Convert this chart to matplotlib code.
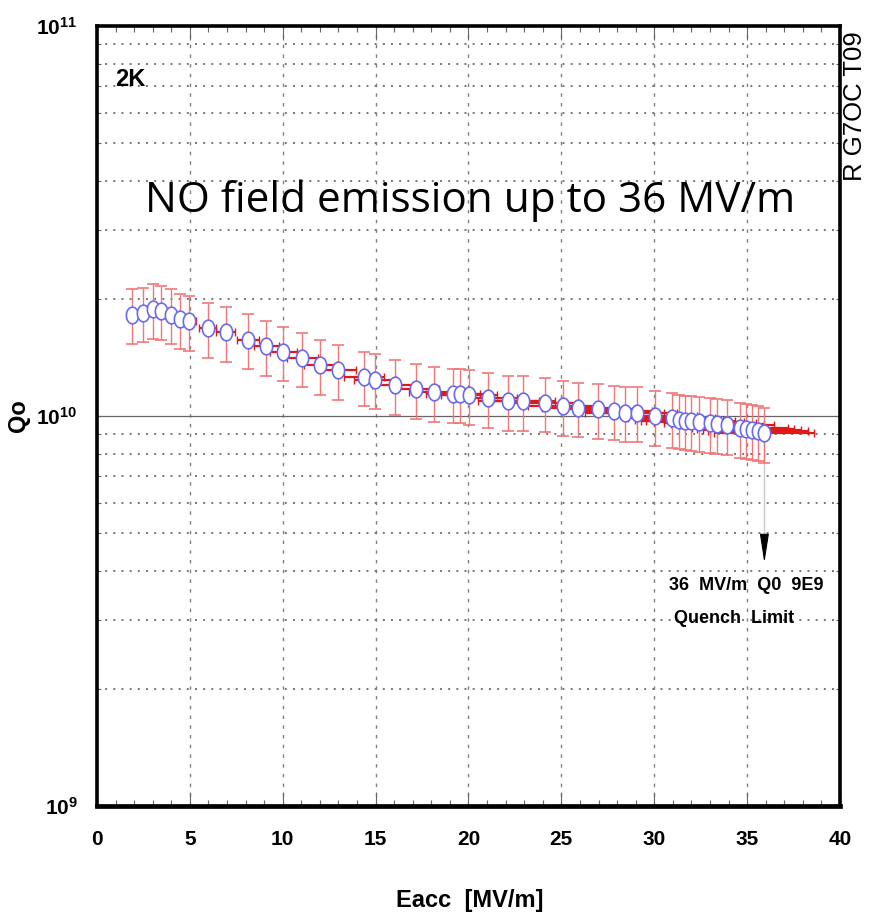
import numpy as np
import matplotlib
matplotlib.use('Agg')
import matplotlib.pyplot as plt
from matplotlib import font_manager
from matplotlib.path import Path
from matplotlib.ticker import FixedLocator, NullFormatter, FuncFormatter

# measured points (Eacc in MV/m, Q0)
eacc = [1.90, 2.45, 2.99, 3.42, 3.96, 4.46, 4.96, 5.95, 6.92, 8.12,
        9.12, 10.04, 11.06, 12.03, 12.96, 14.35, 14.95, 16.02, 17.15, 18.13,
        19.16, 19.55, 20.05, 21.04, 22.15, 22.92, 24.12, 25.10, 25.91, 26.95,
        27.81, 28.42, 29.05, 30.05, 30.93, 31.34, 31.67, 31.97, 32.42, 33.00,
        33.40, 33.91, 34.62, 34.93, 35.25, 35.59, 35.93]
q0 = [1.82, 1.84, 1.88, 1.86, 1.82, 1.77, 1.75, 1.68, 1.64, 1.57,
      1.51, 1.46, 1.41, 1.35, 1.31, 1.26, 1.24, 1.20, 1.17, 1.15,
      1.14, 1.14, 1.13, 1.11, 1.09, 1.09, 1.08, 1.06, 1.05, 1.04,
      1.032, 1.02, 1.02, 1.00, 0.986, 0.977, 0.972, 0.970, 0.963, 0.958,
      0.953, 0.948, 0.929, 0.924, 0.920, 0.915, 0.903]
q0 = np.array(q0) * 1e10
eacc = np.array(eacc)

q_err_frac = 0.16
e_err_frac = 0.075

x_ticks = [0, 5, 10, 15, 20, 25, 30, 35, 40]

# fonts
names = {f.name for f in font_manager.fontManager.ttflist}
narrow = 'Liberation Sans Narrow' if 'Liberation Sans Narrow' in names else 'Liberation Sans'
plt.rcParams['mathtext.fontset'] = 'custom'
plt.rcParams['mathtext.bf'] = narrow + ':bold'
plt.rcParams['mathtext.rm'] = narrow + ':bold'

fig = plt.figure(figsize=(8.7, 9.18), dpi=100)
ax = fig.add_axes([0.1115, 0.122, 0.854, 0.8497])

# ellipse marker (taller than wide)
t = np.linspace(0, 2 * np.pi, 60)
ell = Path(np.column_stack([0.37 * np.cos(t), 0.5 * np.sin(t)]), closed=True)

# horizontal (Eacc) error bars
ax.errorbar(eacc, q0, xerr=eacc * e_err_frac, fmt='none', ecolor='#e01818',
            elinewidth=1.6, capsize=3, capthick=1.0, zorder=3)
# vertical (Q0) error bars
ax.errorbar(eacc, q0, yerr=q0 * q_err_frac, fmt='none', ecolor='#f07878',
            elinewidth=1.0, capsize=4, capthick=1.2, zorder=3)
ax.plot(eacc, q0, linestyle='none', marker=ell, markersize=12,
        markerfacecolor='white', markeredgecolor='#6a6af0', markeredgewidth=1.2,
        zorder=4)

# quench marker
ax.plot([eacc[-1], eacc[-1]], [q0[-1], 4.9e9], color='#c8c8c8', lw=1.0, zorder=2)
ax.annotate('', xy=(eacc[-1], 4.2e9), xytext=(eacc[-1], 4.9e9),
            arrowprops=dict(arrowstyle='-|>,head_length=0.9,head_width=0.14',
                            color='black', lw=0.8, shrinkA=0, shrinkB=0,
                            mutation_scale=20))
ax.text(34.95, 3.58e9, '36  MV/m  Q0  9E9', ha='center', va='baseline',
        fontsize=13, fontweight='bold', family=narrow)
ax.text(34.3, 2.95e9, 'Quench  Limit', ha='center', va='baseline',
        fontsize=13, fontweight='bold', family=narrow)

ax.text(20.1, 3.34e10, 'NO field emission up to 36 MV/m', ha='center',
        va='baseline', fontsize=30.4, family='Open Sans')
ax.text(0.024, 0.923, '2K', transform=ax.transAxes, ha='left', va='baseline',
        fontsize=17, fontweight='bold', family=narrow)
fig.text(0.983, 0.884, 'R G7OC T09', rotation=90, ha='center', va='center',
         fontsize=18.5, family='Liberation Sans')

ax.set_yscale('log')
ax.set_xlim(0, 40)
ax.set_ylim(1e9, 1e11)

# grid
ax.xaxis.set_major_locator(FixedLocator(x_ticks))
ax.xaxis.set_minor_locator(FixedLocator(np.arange(0, 41, 1)))
for x in x_ticks[1:-1]:
    ax.axvline(x, color='#808080', lw=1.0, ls=(0, (2.5, 4.5)), zorder=1)
minor_y = [m * 10.0 ** d for d in (9, 10) for m in range(2, 10)]
for y in minor_y:
    ax.axhline(y, color='#777777', lw=1.4, ls=(0, (1, 3.2)), zorder=1)
ax.axhline(1e10, color='#666666', lw=0.9, zorder=1)

ax.yaxis.set_major_locator(FixedLocator([1e9, 1e10, 1e11]))
ax.yaxis.set_minor_locator(FixedLocator(minor_y))
ax.yaxis.set_minor_formatter(NullFormatter())
ax.yaxis.set_major_formatter(FuncFormatter(lambda v, p: r'$\mathbf{10^{%d}}$' % round(np.log10(v))))

ax.tick_params(axis='x', which='major', direction='in', length=10, width=0.8,
               color='#666666', top=True, pad=17, labelsize=15)
ax.tick_params(axis='x', which='minor', direction='in', length=4, width=0.8,
               color='#666666', top=True)
ax.tick_params(axis='y', which='both', direction='in', length=3, width=0.8,
               color='#666666', right=True, pad=14, labelsize=15)
for lab in ax.get_xticklabels():
    lab.set_fontweight('bold')
    lab.set_family(narrow)

for s in ax.spines.values():
    s.set_linewidth(2.6)
ax.spines['bottom'].set_linewidth(3.4)

ax.set_xlabel('Eacc  [MV/m]', fontsize=17, fontweight='bold', family=narrow)
ax.xaxis.set_label_coords(0.502, -0.107)
ax.set_ylabel('Qo', fontsize=17, fontweight='bold', family=narrow)
ax.yaxis.set_label_coords(-0.09, 0.501)

fig.savefig('out.png', dpi=100)
